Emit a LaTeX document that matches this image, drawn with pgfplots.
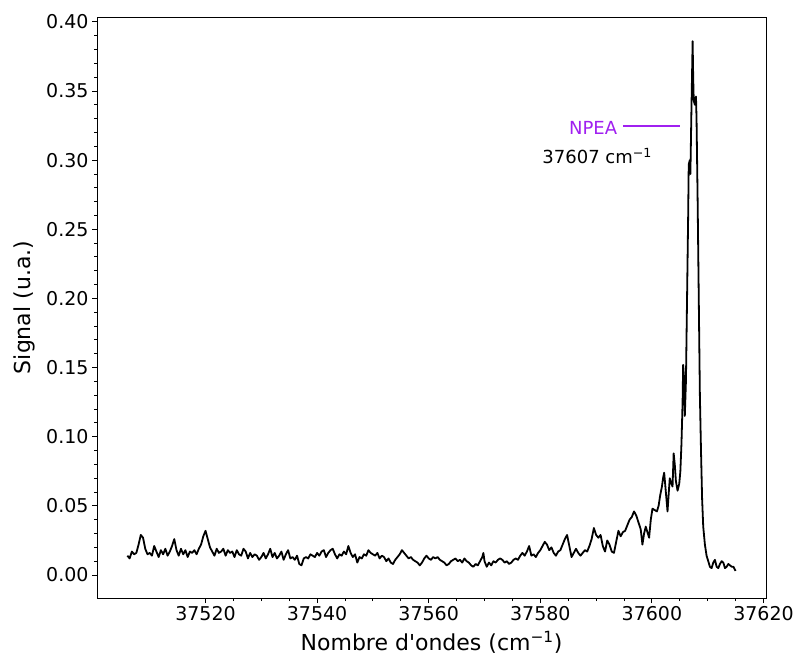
\documentclass[border=0pt]{standalone}
\usepackage{pgfplots}
\pgfplotsset{compat=1.18}
\usepackage{fontspec}
\setmainfont{DejaVu Sans}
\definecolor{npea}{RGB}{160,32,240}
\begin{document}
\begin{tikzpicture}
\begin{axis}[
  scale only axis,
  width=669bp, height=581bp,
  xmin=37500.55, xmax=37620.45,
  ymin=-0.0166, ymax=0.4035,
  axis line style={line width=0.9bp},
  xtick={37520,37540,37560,37580,37600,37620},
  ytick={0,0.05,0.1,0.15,0.2,0.25,0.3,0.35,0.4},
  scaled x ticks=false, scaled y ticks=false,
  minor x tick num=3,
  minor y tick num=4,
  tick align=outside,
  xtick pos=bottom, ytick pos=left,
  major tick length=5bp, minor tick length=3bp,
  tick style={line width=0.9bp, black},
  /pgf/number format/assume math mode=true,
  xticklabel style={/pgf/number format/.cd, fixed, precision=0, 1000 sep={}, /tikz/.cd, font=\fontsize{19bp}{22bp}\selectfont},
  yticklabel style={/pgf/number format/.cd, fixed, fixed zerofill, precision=2, /tikz/.cd, font=\fontsize{19bp}{22bp}\selectfont},
  xlabel={Nombre d\textquotesingle ondes (cm\textsuperscript{−1})},
  ylabel={Signal (u.a.)},
  label style={font=\fontsize{22bp}{26bp}\selectfont},
  xlabel style={yshift=-4bp},
  ylabel style={yshift=4bp},
]
\addplot[black, line width=1.8bp, line join=round] coordinates {
(37506.0,0.014) (37506.4,0.012) (37506.8,0.017) (37507.2,0.015) (37507.6,0.016)
(37508.0,0.022) (37508.4,0.029) (37508.8,0.027) (37509.2,0.019) (37509.6,0.015)
(37510.0,0.016) (37510.4,0.014) (37510.8,0.021) (37511.2,0.017) (37511.6,0.013)
(37512.0,0.018) (37512.4,0.015) (37512.8,0.019) (37513.2,0.014) (37513.6,0.017)
(37514.0,0.021) (37514.4,0.026) (37514.8,0.018) (37515.2,0.014) (37515.6,0.019)
(37516.0,0.015) (37516.4,0.018) (37516.8,0.013) (37517.2,0.017) (37517.6,0.016)
(37518.0,0.018) (37518.4,0.015) (37518.8,0.019) (37519.2,0.022) (37519.6,0.028)
(37520.0,0.032) (37520.4,0.026) (37520.8,0.020) (37521.2,0.017) (37521.6,0.014)
(37522.0,0.019) (37522.4,0.016) (37522.8,0.017) (37523.2,0.019) (37523.6,0.014)
(37524.0,0.018) (37524.4,0.016) (37524.8,0.017) (37525.2,0.013) (37525.6,0.018)
(37526.0,0.015) (37526.4,0.014) (37526.8,0.019) (37527.2,0.017) (37527.6,0.012)
(37528.0,0.016) (37528.4,0.013) (37528.8,0.015) (37529.2,0.014) (37529.6,0.011)
(37530.0,0.013) (37530.4,0.016) (37530.8,0.012) (37531.2,0.015) (37531.6,0.019)
(37532.0,0.013) (37532.4,0.016) (37532.8,0.012) (37533.2,0.014) (37533.6,0.017)
(37534.0,0.011) (37534.4,0.015) (37534.8,0.018) (37535.2,0.012) (37535.6,0.013)
(37536.0,0.011) (37536.4,0.014) (37536.8,0.008) (37537.2,0.007) (37537.6,0.012)
(37538.0,0.013) (37538.4,0.012) (37538.8,0.015) (37539.2,0.014) (37539.6,0.013)
(37540.0,0.016) (37540.4,0.014) (37540.8,0.017) (37541.2,0.018) (37541.6,0.013)
(37542.0,0.016) (37542.4,0.018) (37542.8,0.019) (37543.2,0.015) (37543.6,0.012)
(37544.0,0.015) (37544.4,0.014) (37544.8,0.017) (37545.2,0.015) (37545.6,0.021)
(37546.0,0.016) (37546.4,0.013) (37546.8,0.015) (37547.2,0.009) (37547.6,0.013)
(37548.0,0.012) (37548.4,0.015) (37548.8,0.014) (37549.2,0.018) (37549.6,0.016)
(37550.0,0.015) (37550.4,0.014) (37550.8,0.016) (37551.2,0.012) (37551.6,0.014)
(37552.0,0.013) (37552.4,0.010) (37552.8,0.012) (37553.2,0.009) (37553.6,0.008)
(37554.0,0.011) (37554.4,0.013) (37554.8,0.015) (37555.2,0.018) (37555.6,0.016)
(37556.0,0.014) (37556.4,0.012) (37556.8,0.013) (37557.2,0.011) (37557.6,0.010)
(37558.0,0.009) (37558.4,0.007) (37558.8,0.009) (37559.2,0.012) (37559.6,0.014)
(37560.0,0.012) (37560.4,0.011) (37560.8,0.013) (37561.2,0.012) (37561.6,0.013)
(37562.0,0.011) (37562.4,0.010) (37562.8,0.009) (37563.2,0.007) (37563.6,0.008)
(37564.0,0.010) (37564.4,0.011) (37564.8,0.012) (37565.2,0.010) (37565.6,0.011)
(37566.0,0.009) (37566.4,0.012) (37566.8,0.010) (37567.2,0.009) (37567.6,0.007)
(37568.0,0.006) (37568.4,0.008) (37568.8,0.007) (37569.2,0.010) (37569.6,0.013)
(37569.8,0.016) (37570.0,0.010) (37570.4,0.006) (37570.8,0.009) (37571.2,0.007)
(37571.6,0.010) (37572.0,0.009) (37572.4,0.011) (37572.8,0.012) (37573.2,0.011)
(37573.6,0.009) (37574.0,0.010) (37574.4,0.008) (37574.8,0.009) (37575.2,0.011)
(37575.6,0.012) (37576.0,0.011) (37576.4,0.014) (37576.8,0.016) (37577.2,0.014)
(37577.6,0.017) (37578.0,0.021) (37578.4,0.014) (37578.8,0.015) (37579.2,0.013)
(37579.6,0.016) (37580.0,0.018) (37580.4,0.021) (37580.8,0.024) (37581.2,0.022)
(37581.6,0.018) (37582.0,0.020) (37582.4,0.016) (37582.8,0.014) (37583.2,0.017)
(37583.6,0.018) (37584.0,0.022) (37584.4,0.026) (37584.8,0.029) (37585.2,0.021)
(37585.6,0.013) (37586.0,0.016) (37586.4,0.019) (37586.8,0.016) (37587.2,0.014)
(37587.6,0.016) (37588.0,0.018) (37588.4,0.017) (37588.8,0.021) (37589.2,0.026)
(37589.6,0.034) (37590.0,0.029) (37590.4,0.027) (37590.8,0.029) (37591.2,0.021)
(37591.6,0.017) (37592.0,0.025) (37592.4,0.022) (37592.8,0.017) (37593.2,0.016)
(37593.6,0.024) (37594.0,0.032) (37594.4,0.028) (37594.8,0.031) (37595.2,0.032)
(37595.6,0.036) (37596.0,0.040) (37596.4,0.042) (37596.8,0.046) (37597.2,0.043)
(37597.6,0.038) (37598.0,0.033) (37598.3,0.022) (37598.6,0.030) (37598.9,0.035)
(37599.2,0.031) (37599.5,0.027) (37599.8,0.040) (37600.1,0.048) (37600.5,0.047)
(37600.9,0.046) (37601.2,0.050) (37601.5,0.058) (37601.8,0.064) (37602.0,0.070)
(37602.2,0.074) (37602.5,0.060) (37602.8,0.046) (37603.0,0.058) (37603.2,0.070)
(37603.5,0.066) (37603.7,0.064) (37603.9,0.088) (37604.1,0.080) (37604.3,0.068)
(37604.6,0.061) (37604.9,0.066) (37605.1,0.075) (37605.3,0.095) (37605.5,0.125)
(37605.6,0.152) (37605.8,0.140) (37605.9,0.115) (37606.1,0.140) (37606.3,0.200)
(37606.5,0.260) (37606.6,0.297) (37606.8,0.300) (37606.9,0.290) (37607.1,0.340)
(37607.3,0.386) (37607.4,0.360) (37607.5,0.343) (37607.7,0.340) (37607.9,0.346)
(37608.0,0.330) (37608.2,0.270) (37608.4,0.200) (37608.6,0.130) (37608.8,0.090)
(37609.0,0.055) (37609.2,0.035) (37609.5,0.022) (37609.8,0.014) (37610.1,0.010)
(37610.4,0.006) (37610.7,0.005) (37611.0,0.009) (37611.3,0.011) (37611.6,0.006)
(37611.9,0.005) (37612.2,0.008) (37612.5,0.010) (37612.8,0.009) (37613.1,0.005)
(37613.4,0.006) (37613.7,0.008) (37614.0,0.007) (37614.3,0.006) (37614.6,0.006)
(37615.0,0.003)
};
\draw[npea, line width=1.4bp] (axis cs:37594.8,0.3247) -- (axis cs:37605.0,0.3247);
\node[npea, anchor=east, inner sep=0pt, font=\fontsize{18bp}{21bp}\selectfont] at (axis cs:37593.8,0.3235) {NPEA};
\node[black, anchor=center, inner sep=0pt, font=\fontsize{18bp}{21bp}\selectfont] at (axis cs:37590.2,0.3030) {37607 cm\textsuperscript{−1}};
\end{axis}
\pgfresetboundingbox
\path[use as bounding box] ([xshift=-97bp,yshift=-60bp]current axis.south west) rectangle ([xshift=29bp,yshift=17bp]current axis.north east);
\end{tikzpicture}
\end{document}
